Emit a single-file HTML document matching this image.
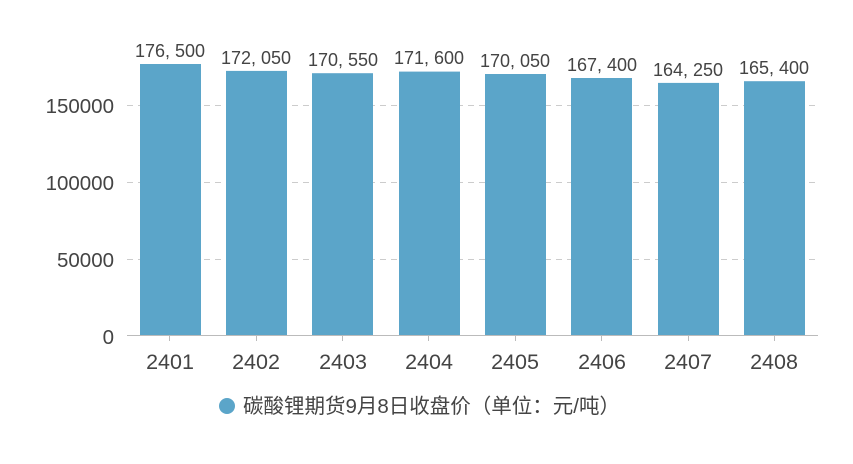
<!DOCTYPE html>
<html><head><meta charset="utf-8"><style>
html,body{margin:0;padding:0;background:#fff;width:853px;height:464px;overflow:hidden}
svg{display:block;font-family:"Liberation Sans","Noto Sans CJK SC",sans-serif}
</style></head><body>
<svg width="853" height="464" viewBox="0 0 853 464">
<g stroke="#ccc" stroke-dasharray="6,5" stroke-width="1">
<line x1="127" y1="105.5" x2="818" y2="105.5"/>
<line x1="127" y1="182.5" x2="818" y2="182.5"/>
<line x1="127" y1="259.5" x2="818" y2="259.5"/>
</g>
<g fill="#5ba5c9">
<rect x="140" y="64" width="61" height="272"/>
<rect x="226" y="70.9" width="61" height="265.1"/>
<rect x="312" y="73.2" width="61" height="262.8"/>
<rect x="399" y="71.6" width="61" height="264.4"/>
<rect x="485" y="74" width="61" height="262"/>
<rect x="571" y="78" width="61" height="258"/>
<rect x="658" y="82.9" width="61" height="253.1"/>
<rect x="744" y="81.2" width="61" height="254.8"/>
</g>
<line x1="127" y1="335.5" x2="818" y2="335.5" stroke="#bbb"/>
<g stroke="#bbb"><line x1="169.5" y1="336" x2="169.5" y2="341"/><line x1="256.5" y1="336" x2="256.5" y2="341"/><line x1="342.5" y1="336" x2="342.5" y2="341"/><line x1="428.5" y1="336" x2="428.5" y2="341"/><line x1="515.5" y1="336" x2="515.5" y2="341"/><line x1="601.5" y1="336" x2="601.5" y2="341"/><line x1="688.5" y1="336" x2="688.5" y2="341"/><line x1="774.5" y1="336" x2="774.5" y2="341"/></g>
<g fill="#444" font-size="20.5" text-anchor="end">
<text x="114" y="113">150000</text><text x="114" y="190">100000</text><text x="114" y="267">50000</text><text x="114" y="344">0</text>
</g>
<g fill="#444" font-size="21.5" text-anchor="middle">
<text x="170" y="369">2401</text><text x="256" y="369">2402</text><text x="343" y="369">2403</text><text x="429" y="369">2404</text><text x="515" y="369">2405</text><text x="602" y="369">2406</text><text x="688" y="369">2407</text><text x="774" y="369">2408</text>
</g>
<g fill="#444" font-size="18" text-anchor="middle">
<text x="170" y="57">176, 500</text><text x="256" y="64">172, 050</text><text x="343" y="66">170, 550</text><text x="429" y="64">171, 600</text><text x="515" y="67">170, 050</text><text x="602" y="71">167, 400</text><text x="688" y="76">164, 250</text><text x="774" y="74">165, 400</text>
</g>
<circle cx="227" cy="406" r="8" fill="#5ba5c9"/>
<text x="243" y="413" fill="#444" font-size="20.5">碳酸锂期货9月8日收盘价（单位：元/吨）</text>
</svg>
</body></html>
